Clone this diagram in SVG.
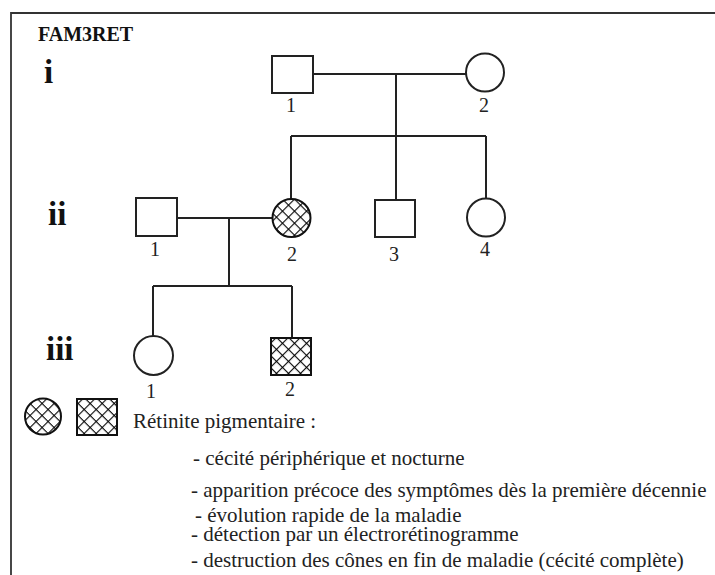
<svg xmlns="http://www.w3.org/2000/svg" width="715" height="575" viewBox="0 0 715 575">
  <defs>
    <!-- cross-hatching for affected individuals -->
    <pattern id="hatch" patternUnits="userSpaceOnUse" width="8.5" height="8.5" patternTransform="rotate(45)">
      <rect width="8.5" height="8.5" fill="#fff"/>
      <line x1="0" y1="0" x2="0" y2="8.5" stroke="#000" stroke-width="2.2"/>
      <line x1="0" y1="0" x2="8.5" y2="0" stroke="#000" stroke-width="2.2"/>
    </pattern>
    <style>
      .shape { fill: #fff; stroke: #222; stroke-width: 2; }
      .affected { fill: url(#hatch); stroke: #111; stroke-width: 2; }
      .line { fill: none; stroke: #222; stroke-width: 2; }
      .num { font-size: 20px; fill: #222; text-anchor: middle; }
      .gen { font-size: 33px; font-weight: bold; fill: #111; }
      .txt { font-size: 21px; fill: #222; }
    </style>
  </defs>

  <rect width="715" height="575" fill="#fff"/>

  <!-- frame -->
  <path d="M11,575 V13 H715" fill="none" stroke="#333" stroke-width="1.8"/>

  <g font-family="'Liberation Serif', 'Times New Roman', serif">
    <text x="38" y="41" font-size="20" font-weight="bold" fill="#111">FAM3RET</text>

    <!-- generation labels -->
    <text class="gen" x="44" y="83">i</text>
    <text class="gen" x="48" y="225">ii</text>
    <text class="gen" x="46" y="360">iii</text>

    <!-- connectors -->
    <g id="connectors">
      <!-- I-1 x I-2 -->
      <line class="line" x1="313" y1="74" x2="466" y2="74"/>
      <line class="line" x1="396" y1="74" x2="396" y2="136"/>
      <line class="line" x1="291" y1="136" x2="486" y2="136"/>
      <line class="line" x1="291" y1="136" x2="291" y2="199"/>
      <line class="line" x1="396" y1="136" x2="396" y2="200"/>
      <line class="line" x1="486" y1="136" x2="486" y2="198"/>
      <!-- II-1 x II-2 -->
      <line class="line" x1="177" y1="218" x2="272" y2="218"/>
      <line class="line" x1="229" y1="218" x2="229" y2="286"/>
      <line class="line" x1="153" y1="286" x2="292" y2="286"/>
      <line class="line" x1="153" y1="286" x2="153" y2="336"/>
      <line class="line" x1="292" y1="286" x2="292" y2="338"/>
    </g>

    <!-- generation I -->
    <g id="I-1">
      <rect class="shape" x="272" y="56" width="41" height="37"/>
      <text class="num" x="291" y="112">1</text>
    </g>
    <g id="I-2">
      <circle class="shape" cx="485" cy="72.5" r="19"/>
      <text class="num" x="484" y="112">2</text>
    </g>

    <!-- generation II -->
    <g id="II-1">
      <rect class="shape" x="136" y="198" width="41" height="38"/>
      <text class="num" x="155" y="256">1</text>
    </g>
    <g id="II-2">
      <circle class="affected" cx="291.5" cy="218" r="19"/>
      <text class="num" x="292" y="261">2</text>
    </g>
    <g id="II-3">
      <rect class="shape" x="375" y="200" width="40" height="37"/>
      <text class="num" x="394" y="261">3</text>
    </g>
    <g id="II-4">
      <circle class="shape" cx="486" cy="217.5" r="19"/>
      <text class="num" x="485" y="256">4</text>
    </g>

    <!-- generation III -->
    <g id="III-1">
      <circle class="shape" cx="153.5" cy="355.5" r="19.5"/>
      <text class="num" x="151" y="398">1</text>
    </g>
    <g id="III-2">
      <rect class="affected" x="271" y="338" width="40" height="37"/>
      <text class="num" x="290" y="396">2</text>
    </g>

    <!-- legend -->
    <g id="legend">
      <circle class="affected" cx="43" cy="416.5" r="18"/>
      <rect class="affected" x="77" y="399" width="40" height="36"/>
      <text class="txt" x="133" y="428">Rétinite pigmentaire :</text>
      <text class="txt" x="193" y="465">- cécité périphérique et nocturne</text>
      <text class="txt" x="191" y="497">- apparition précoce des symptômes dès la première décennie</text>
      <text class="txt" x="195" y="522">- évolution rapide de la maladie</text>
      <text class="txt" x="191" y="541">- détection par un électrorétinogramme</text>
      <text class="txt" x="191" y="567">- destruction des cônes en fin de maladie (cécité complète)</text>
    </g>
  </g>
</svg>
